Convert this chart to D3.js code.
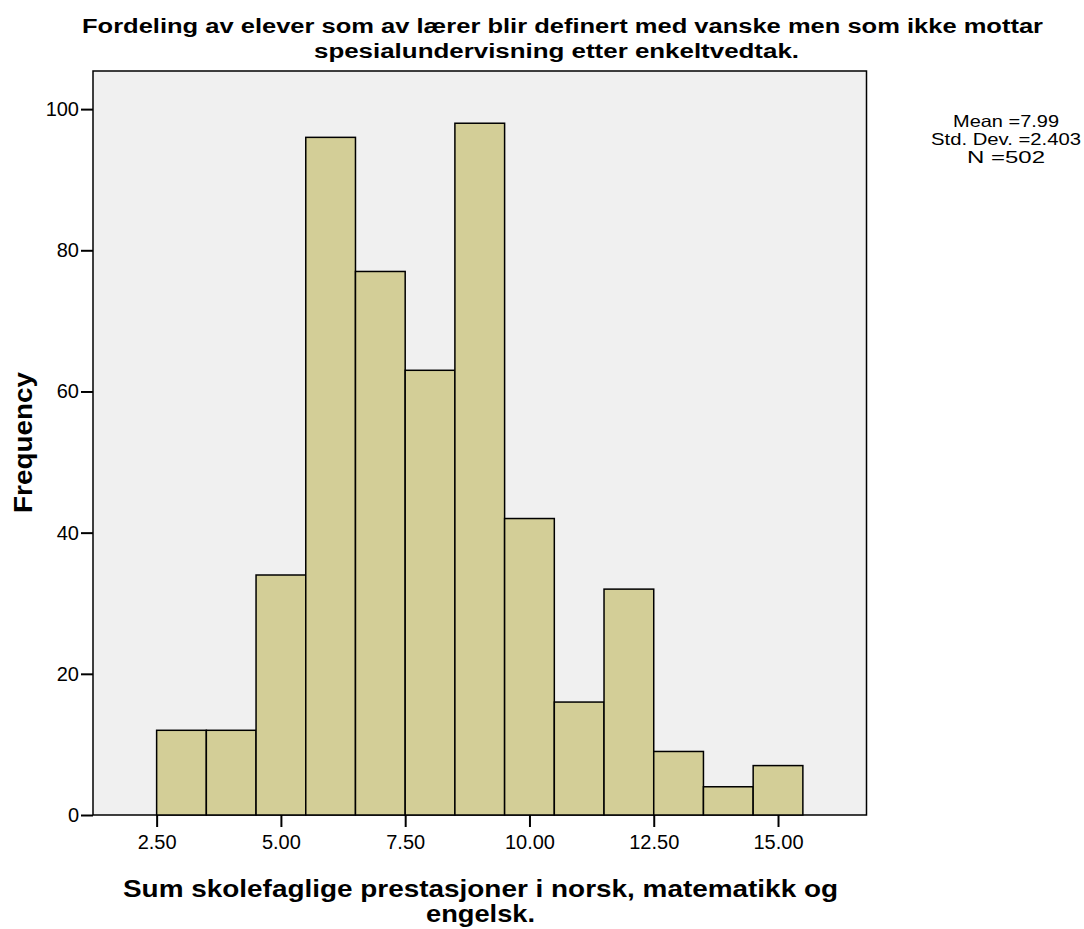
<!DOCTYPE html>
<html><head><meta charset="utf-8">
<script src="https://cdn.jsdelivr.net/npm/d3@7"></script>
<style>body{margin:0;background:#fff}svg{display:block}text{font-family:"Liberation Sans",Arial,sans-serif}</style>
</head><body>
<script>
const binStarts = [2.5,3.5,4.5,5.5,6.5,7.5,8.5,9.5,10.5,11.5,12.5,13.5,14.5];
const binWidth = 1;
const counts = [12,12,34,96,77,63,98,42,16,32,9,4,7];
const xTicks = [2.5,5,7.5,10,12.5,15];
const yTicks = [0,20,40,60,80,100];
const titleLines = ["Fordeling av elever som av lærer blir definert med vanske men som ikke mottar","spesialundervisning etter enkeltvedtak."];
const xTitleLines = ["Sum skolefaglige prestasjoner i norsk, matematikk og","engelsk."];
const yTitle = "Frequency";
const statsLines = ["Mean =7.99","Std. Dev. =2.403","N =502"];

const W=1084,H=929;
const L=93,R=866.5,T=71,B=815;
const svg=d3.select("body").append("svg").attr("width",W).attr("height",H);
const x=d3.scaleLinear().domain([1.22,16.78]).range([L,R]);
const y=d3.scaleLinear().domain([0,105.4]).range([B,T]);

svg.append("rect").attr("x",L).attr("y",T).attr("width",R-L).attr("height",B-T)
  .attr("fill","#f0f0f0").attr("stroke","#000").attr("stroke-width",1.5);

svg.append("g").selectAll("rect").data(binStarts).join("rect")
  .attr("x",d=>x(d)).attr("width",d=>x(d+binWidth)-x(d))
  .attr("y",(d,i)=>y(counts[i])).attr("height",(d,i)=>y(0)-y(counts[i]))
  .attr("fill","#d3ce97").attr("stroke","#000").attr("stroke-width",1.5);

const xa=svg.append("g").attr("transform",`translate(0,${B})`)
  .call(d3.axisBottom(x).tickValues(xTicks).tickFormat(d3.format(".2f")).tickSize(12).tickPadding(8));
const ya=svg.append("g").attr("transform",`translate(${L},0)`)
  .call(d3.axisLeft(y).tickValues(yTicks).tickFormat(d3.format("d")).tickSize(12).tickPadding(2));
[xa,ya].forEach(g=>{
  g.select(".domain").remove();
  g.selectAll(".tick line").attr("stroke","#000").attr("stroke-width",2);
  g.selectAll(".tick text").attr("fill","#000").style("font-size","20px").style("font-family",'"Liberation Sans",Arial,sans-serif');
});

// title
const tl=[{t:titleLines[0],y:32.5,w:961},{t:titleLines[1],y:57.5,w:485}];
svg.selectAll(".title").data(tl).join("text").attr("class","title")
  .attr("x",(d,i)=>i===0?562.5:556.5).attr("y",d=>d.y).attr("text-anchor","middle")
  .attr("textLength",d=>d.w).attr("lengthAdjust","spacingAndGlyphs")
  .style("font-size","20px").style("font-weight","bold").text(d=>d.t);

// x title
const xl=[{t:xTitleLines[0],y:896.5,w:715},{t:xTitleLines[1],y:922,w:109}];
svg.selectAll(".xt").data(xl).join("text").attr("class","xt")
  .attr("x",480.5).attr("y",d=>d.y).attr("text-anchor","middle")
  .attr("textLength",d=>d.w).attr("lengthAdjust","spacingAndGlyphs")
  .style("font-size","24px").style("font-weight","bold").text(d=>d.t);

// y title
svg.append("text").attr("transform","translate(31.5,442.5) rotate(-90)")
  .attr("text-anchor","middle").attr("textLength",141).attr("lengthAdjust","spacingAndGlyphs")
  .style("font-size","25px").style("font-weight","bold").text(yTitle);

// stats
const sl=[{t:statsLines[0],y:127,w:106},{t:statsLines[1],y:145,w:150},{t:statsLines[2],y:162.5,w:78}];
svg.selectAll(".st").data(sl).join("text").attr("class","st")
  .attr("x",1006).attr("y",d=>d.y).attr("text-anchor","middle")
  .attr("textLength",d=>d.w).attr("lengthAdjust","spacingAndGlyphs")
  .style("font-size","16.5px").text(d=>d.t);
</script>
</body></html>
